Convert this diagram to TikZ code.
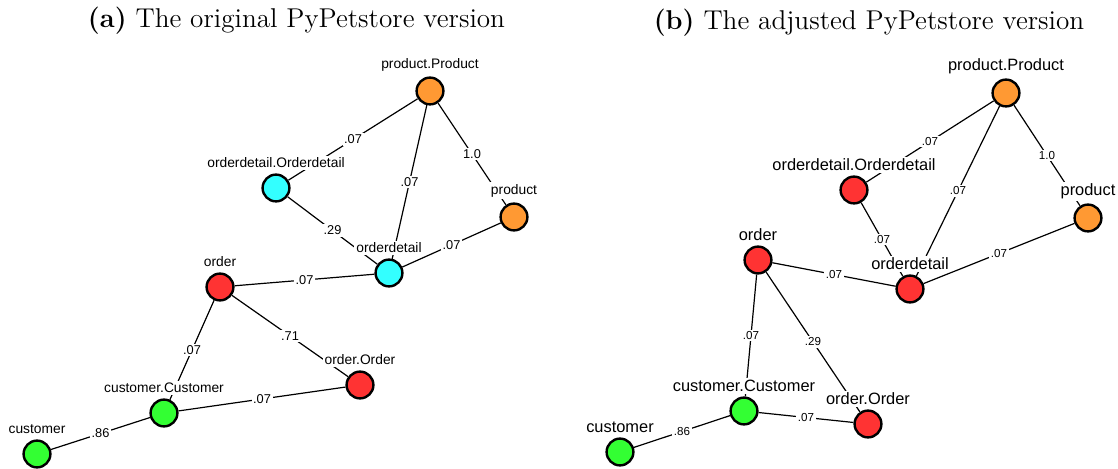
\documentclass[tikz,border=0pt]{standalone}
\usepackage{fontspec}
\newfontfamily\arialfont{Liberation Sans}
\usetikzlibrary{positioning}
\definecolor{clsorange}{RGB}{255,153,51}
\definecolor{clscyan}{RGB}{51,255,255}
\definecolor{clsred}{RGB}{255,51,51}
\definecolor{clsgreen}{RGB}{51,255,51}
\tikzset{every node/.style={align=center},
  mod/.style={circle, draw, line width=1.2pt, minimum size=13.4pt, inner sep=0pt},
  dep/.style={line width=0.6pt},
  wa/.style={fill=white, inner sep=0.8pt, font=\arialfont\fontsize{6.4}{7}\selectfont},
  wb/.style={fill=white, inner sep=0.8pt, font=\arialfont\fontsize{5.8}{7}\selectfont},
  na/.style={fill=white, inner sep=1pt, font=\arialfont\fontsize{6.9}{8}\selectfont},
  nb/.style={fill=white, inner sep=1pt, font=\arialfont\fontsize{8.2}{9}\selectfont}}

\begin{document}
\begin{tikzpicture}[x=0.5pt, y=-0.5pt]
  \useasboundingbox (0,0) rectangle (1118,469);
  \node [anchor=base] (ta) at (296.5,27.5) {\fontsize{13.6}{16}\selectfont\textbf{(a)} The original PyPetstore version};
  \node [anchor=base] (tb) at (869,29.5) {\fontsize{13.6}{16}\selectfont\textbf{(b)} The adjusted PyPetstore version};
  % (a) original
  \node [mod, fill=clsorange] (pP1) at (430,91) {};
  \node [mod, fill=clscyan] (oD1) at (276,188) {};
  \node [mod, fill=clsorange] (p1) at (514,217) {};
  \node [mod, fill=clscyan] (od1) at (389,273) {};
  \node [mod, fill=clsred] (o1) at (220,287) {};
  \node [mod, fill=clsred] (oO1) at (360,385) {};
  \node [mod, fill=clsgreen] (cC1) at (164,413) {};
  \node [mod, fill=clsgreen] (c1) at (37,454) {};
  \path[dep] (pP1) edge node [wa] {.07} (oD1)
    (pP1) edge node [wa] {.07} (od1)
    (pP1) edge node [wa] {1.0} (p1)
    (oD1) edge node [wa] {.29} (od1)
    (p1) edge node [wa] {.07} (od1)
    (o1) edge node [wa] {.07} (od1)
    (o1) edge node [wa] {.07} (cC1)
    (o1) edge node [wa] {.71} (oO1)
    (cC1) edge node [wa] {.07} (oO1)
    (c1) edge node [wa] {.86} (cC1);
  \node [na] (t-pP1) [above=1.5pt of pP1] {product.Product};
  \node [na] (t-oD1) [above=1.5pt of oD1] {orderdetail.Orderdetail};
  \node [na] (t-p1) [above=1.5pt of p1] {product};
  \node [na] (t-od1) [above=1.5pt of od1] {orderdetail};
  \node [na] (t-o1) [above=1.5pt of o1] {order};
  \node [na] (t-oO1) [above=1.5pt of oO1] {order.Order};
  \node [na] (t-cC1) [above=1.5pt of cC1] {customer.Customer};
  \node [na] (t-c1) [above=1.5pt of c1] {customer};
  % (b) adjusted
  \node [mod, fill=clsorange] (pP2) at (1006,93) {};
  \node [mod, fill=clsred] (oD2) at (854,190) {};
  \node [mod, fill=clsorange] (p2) at (1088,218) {};
  \node [mod, fill=clsred] (od2) at (910,289) {};
  \node [mod, fill=clsred] (o2) at (758,260) {};
  \node [mod, fill=clsred] (oO2) at (868,424) {};
  \node [mod, fill=clsgreen] (cC2) at (744,411) {};
  \node [mod, fill=clsgreen] (c2) at (620,452) {};
  \path[dep] (pP2) edge node [wb] {.07} (oD2)
    (pP2) edge node [wb] {.07} (od2)
    (pP2) edge node [wb] {1.0} (p2)
    (oD2) edge node [wb] {.07} (od2)
    (p2) edge node [wb] {.07} (od2)
    (o2) edge node [wb] {.07} (od2)
    (o2) edge node [wb] {.07} (cC2)
    (o2) edge node [wb] {.29} (oO2)
    (cC2) edge node [wb] {.07} (oO2)
    (c2) edge node [wb] {.86} (cC2);
  \node [nb] (t-pP2) [above=1pt of pP2] {product.Product};
  \node [nb] (t-oD2) [above=1pt of oD2] {orderdetail.Orderdetail};
  \node [nb] (t-p2) [above=1pt of p2] {product};
  \node [nb] (t-od2) [above=1pt of od2] {orderdetail};
  \node [nb] (t-o2) [above=1pt of o2] {order};
  \node [nb] (t-oO2) [above=1pt of oO2] {order.Order};
  \node [nb] (t-cC2) [above=1pt of cC2] {customer.Customer};
  \node [nb] (t-c2) [above=1pt of c2] {customer};
\end{tikzpicture}
\end{document}
